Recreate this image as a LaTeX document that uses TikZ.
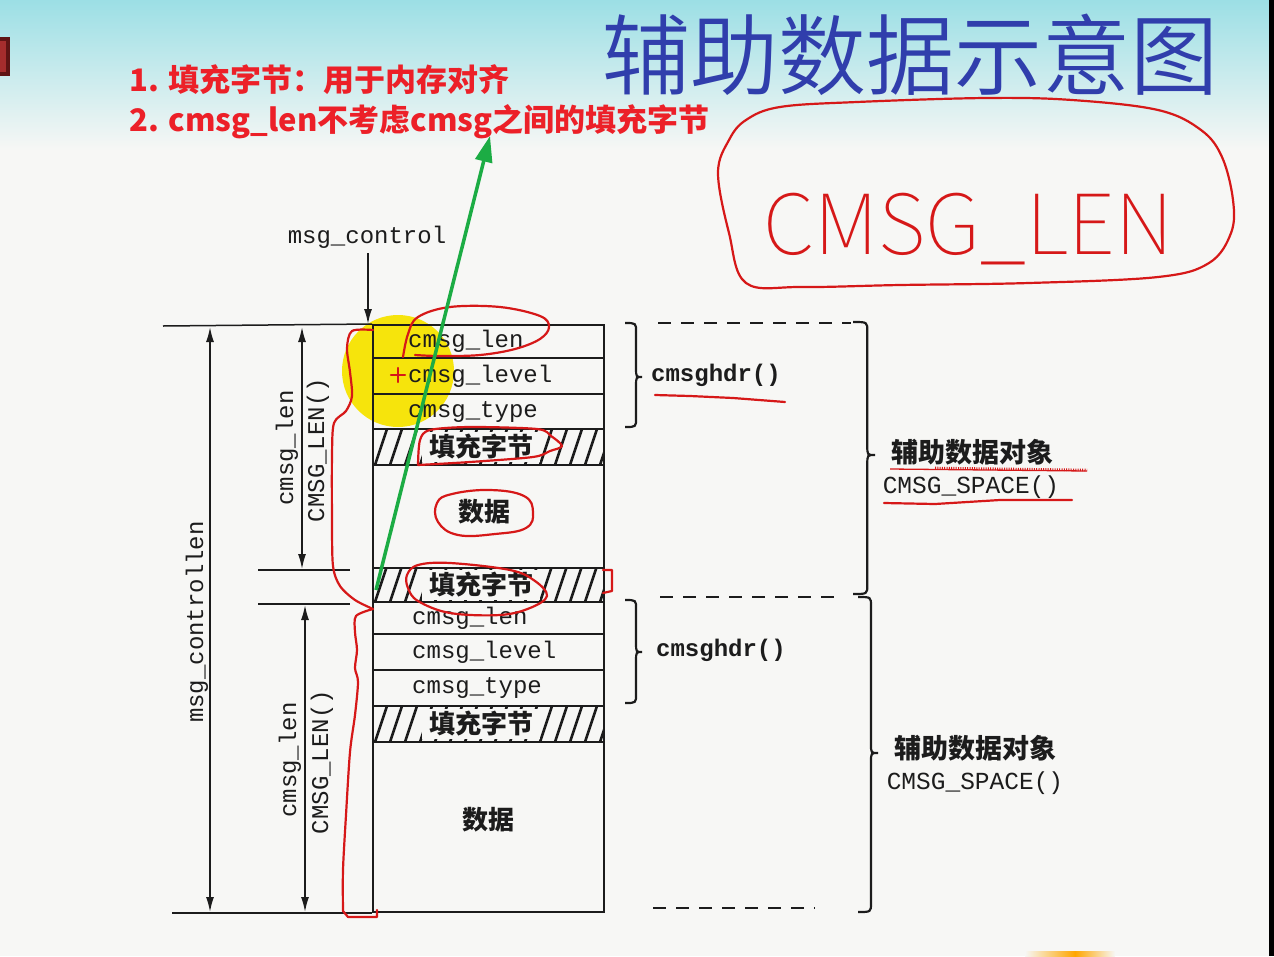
\documentclass[tikz,border=0pt]{standalone}
\usepackage{fontspec}
\usetikzlibrary{arrows.meta,calc}
\setmainfont{Liberation Serif}
\newfontfamily\cjk{Noto Sans CJK SC}
\newfontfamily\cjkthin{Noto Sans CJK SC Thin}
\newfontfamily\cjklight{Noto Sans CJK SC DemiLight}
\newfontfamily\mono{Liberation Mono}

\definecolor{ink}{RGB}{28,28,28}
\definecolor{paper}{RGB}{247,247,245}
\definecolor{penred}{RGB}{214,24,24}
\definecolor{notered}{RGB}{236,32,40}
\definecolor{titleblue}{RGB}{48,62,172}
\definecolor{pointer}{RGB}{28,172,68}
\definecolor{marker}{RGB}{246,228,12}
\definecolor{skytop}{RGB}{156,223,229}
\definecolor{skymid}{RGB}{204,238,242}
\definecolor{darkmark}{RGB}{95,20,20}
\definecolor{markfill}{RGB}{165,45,45}

% right-facing curly brace: x0, top, bottom, tip y, depth
\newcommand\drawbrace[5]{%
  \draw[bracestroke] (#1,#2) .. controls ({#1+0.65*#5},#2) .. ({#1+0.65*#5},{#2+9})
    -- ({#1+0.65*#5},{#4-9}) .. controls ({#1+0.65*#5},#4) .. ({#1+#5},#4)
    .. controls ({#1+0.65*#5},#4) .. ({#1+0.65*#5},{#4+9})
    -- ({#1+0.65*#5},{#3-9}) .. controls ({#1+0.65*#5},#3) .. (#1,#3);}

% diagonal hatching of a padding row: top, bottom
\newcommand\padhatch[2]{%
  \begin{scope}
    \clip (373,#1) rectangle (604,#2);
    \foreach \hx in {345,360,...,615} \draw[hatch] (\hx,#2) -- ++(12,-36);
  \end{scope}}

\begin{document}
\begin{tikzpicture}[x=1pt,y=-1pt,
  rowbox/.style={draw=ink, line width=2pt, minimum width=231pt, inner sep=0pt},
  fieldtxt/.style={font=\mono\fontsize{24}{26}\selectfont, anchor=west, inner sep=0pt, text=ink},
  padtxt/.style={font=\cjk\bfseries\fontsize{26}{28}\selectfont, fill=paper, inner xsep=7pt, inner ysep=2pt, text=ink},
  datatxt/.style={font=\cjk\bfseries\fontsize{26}{28}\selectfont, inner sep=0pt, text=ink},
  hatch/.style={line width=2.6pt, ink},
  guide/.style={line width=1.5pt, ink},
  dimarrow/.style={line width=1.6pt, ink, {Latex[length=15pt,width=8pt]}-{Latex[length=15pt,width=8pt]}},
  vtxt/.style={font=\mono\fontsize{24}{26}\selectfont, rotate=90, inner sep=0pt, text=ink},
  bracestroke/.style={line width=2.2pt, ink},
  dashline/.style={line width=2.4pt, ink, dash pattern=on 13pt off 10pt},
  hdrtxt/.style={font=\mono\bfseries\fontsize{24}{26}\selectfont, inner sep=0pt, text=ink},
  objtxt/.style={font=\cjk\bfseries\fontsize{27}{28}\selectfont, inner sep=0pt, text=ink},
  spacetxt/.style={font=\mono\fontsize{24.5}{26}\selectfont, inner sep=0pt, text=ink},
  redpen/.style={line width=2.2pt, penred, line join=round, line cap=round},
  notetxt/.style={font=\cjk\bfseries\fontsize{31}{33}\selectfont, text=notered, anchor=west, inner sep=0pt}
]
\useasboundingbox (0,0) rectangle (1274,956);

% background
\fill[paper] (0,0) rectangle (1274,956);
\shade[top color=skytop, middle color=skymid, bottom color=paper] (0,0) rectangle (1274,150);
\fill[black] (1269,0) rectangle (1274,956);
\fill[darkmark] (0,37) rectangle (10,76);
\fill[markfill] (0,41) rectangle (6,72);
\shade[left color=paper, right color=orange!70!yellow] (1025,951) rectangle (1075,956);
\shade[left color=orange!70!yellow, right color=paper] (1075,951) rectangle (1115,956);

% title and notes
\node[font=\cjklight\fontsize{88}{88}\selectfont, text=titleblue, inner sep=0pt] (title) at (910,55) {辅助数据示意图};
\node[notetxt] (note1) at (129,80) {1. 填充字节：用于内存对齐};
\node[notetxt] (note2) at (129,122) {2. cmsg\_len不考虑cmsg之间的填充字节};

% highlight behind the first header
\fill[marker] (398,371) circle (56);

% first ancillary data object
\node[rowbox, minimum height=33pt] (r1) at (488.5,341.5) {};
\node[rowbox, minimum height=36pt] (r2) at (488.5,376) {};
\node[rowbox, minimum height=35pt] (r3) at (488.5,411.5) {};
\padhatch{429}{465}
\node[rowbox, minimum height=36pt] (p1) at (488.5,447) {};
\node[rowbox, minimum height=103pt] (d1) at (488.5,516.5) {};
\padhatch{568}{602}
\node[rowbox, minimum height=34pt] (p2) at (488.5,585) {};
% second ancillary data object
\node[rowbox, minimum height=32pt] (r4) at (488.5,618) {};
\node[rowbox, minimum height=36pt] (r5) at (488.5,652) {};
\node[rowbox, minimum height=36pt] (r6) at (488.5,688) {};
\padhatch{706}{742}
\node[rowbox, minimum height=36pt] (p3) at (488.5,724) {};
\node[rowbox, minimum height=170pt] (d2) at (488.5,827) {};

\node[fieldtxt] (f1) at ($(r1.west)+(36,0)$) {cmsg\_len};
\node[fieldtxt] (f2) at ($(r2.west)+(36,0)$) {cmsg\_level};
\node[fieldtxt] (f3) at ($(r3.west)+(36,0)$) {cmsg\_type};
\node[padtxt] (pt1) at (481,447) {填充字节};
\node[datatxt] (dt1) at (484,512) {数据};
\node[padtxt] (pt2) at (481,585) {填充字节};
\node[fieldtxt] (f4) at ($(r4.west)+(40,0)$) {cmsg\_len};
\node[fieldtxt] (f5) at ($(r5.west)+(40,0)$) {cmsg\_level};
\node[fieldtxt] (f6) at ($(r6.west)+(40,0)$) {cmsg\_type};
\node[padtxt] (pt3) at (481,724) {填充字节};
\node[datatxt] (dt2) at (488,820) {数据};

% msg_control pointer
\node[font=\mono\fontsize{24}{26}\selectfont, inner sep=0pt, text=ink] (mctl) at (367,237) {msg\_control};
\coordinate (mcFrom) at (368,253);
\coordinate (mcTo) at (368,324);
\draw[line width=1.5pt, ink, -{Latex[length=15pt,width=8pt]}] (mcFrom) -- (mcTo);

% dimension guides on the left
\coordinate (gTop) at (163,326);
\coordinate (gBot) at (172,913);
\coordinate (gMidA) at (258,570);
\coordinate (gMidAe) at (350,570);
\coordinate (gMidB) at (258,604);
\coordinate (gMidBe) at (350,604);
\draw[guide] (gTop) -- (r1.north west);
\draw[guide] (gBot) -- (d2.south west);
\draw[guide] (gMidA) -- (gMidAe);
\draw[guide] (gMidB) -- (gMidBe);

\coordinate (aTop) at (210,327);
\coordinate (aBot) at (210,912);
\draw[dimarrow] (aTop) -- (aBot);
\coordinate (b1Top) at (302,327);
\coordinate (b1Bot) at (302,569);
\draw[dimarrow] (b1Top) -- (b1Bot);
\coordinate (b2Top) at (305,605);
\coordinate (b2Bot) at (305,912);
\draw[dimarrow] (b2Top) -- (b2Bot);

\node[vtxt] (lenAll) at (197,622) {msg\_controllen};
\node[vtxt] (len1) at (287,448) {cmsg\_len};
\node[vtxt] (mac1) at (318,450) {CMSG\_LEN()};
\node[vtxt] (len2) at (290,760) {cmsg\_len};
\node[vtxt] (mac2) at (322,762) {CMSG\_LEN()};

% braces and dashed extents on the right
\drawbrace{625}{323}{427}{377}{17}
\drawbrace{625}{600}{703}{652}{17}
\drawbrace{853}{322}{594}{455}{22}
\drawbrace{858}{597}{912}{753}{20}
\coordinate (dA) at (658,323); \coordinate (dAe) at (851,323);
\coordinate (dB) at (660,597); \coordinate (dBe) at (835,597);
\coordinate (dC) at (653,908); \coordinate (dCe) at (815,908);
\draw[dashline] (dA) -- (dAe);
\draw[dashline] (dB) -- (dBe);
\draw[dashline] (dC) -- (dCe);

\node[hdrtxt] (h1) at (716,375) {cmsghdr()};
\node[hdrtxt] (h2) at (721,650) {cmsghdr()};
\node[objtxt] (o1) at (972,452) {辅助数据对象};
\node[spacetxt] (s1) at (971,487) {CMSG\_SPACE()};
\node[objtxt] (o2) at (975,748) {辅助数据对象};
\node[spacetxt] (s2) at (975,783) {CMSG\_SPACE()};

% red pen markup
\draw[redpen] plot[smooth cycle, tension=0.6] coordinates {(746,283) (729,233) (718,173) (729,140) (746,120) (780,107) (857,102) (986,98) (1072,100) (1158,110) (1201,130) (1222,157) (1233,200) (1231,233) (1209,263) (1158,277) (1029,283) (900,285) (802,287)};
\node[font=\cjkthin\fontsize{83}{83}\selectfont, text=penred, anchor=base, inner sep=0pt] (hw) at (968,254) {CMSG\_LEN};

\draw[redpen] plot[smooth, tension=0.6] coordinates {(403,357) (408,334) (418,317) (450,307) (500,307) (540,316) (549,327) (540,339) (515,349) (480,355) (440,356) (415,355)};
\draw[redpen] plot[smooth, tension=0.5] coordinates {(418,465) (420,440) (430,430) (470,427) (537,429) (551,436) (562,446) (550,451) (533,457) (470,462) (418,465)};
\draw[redpen] plot[smooth cycle, tension=0.7] coordinates {(438,522) (437,503) (452,494) (490,490) (524,496) (533,512) (526,528) (495,534) (458,535)};
\draw[redpen] plot[smooth cycle, tension=0.6] coordinates {(407,575) (418,565) (450,563) (510,570) (535,581) (547,596) (530,608) (500,615) (450,613) (418,601) (408,588)};
\draw[redpen] (603,570) -- (612,570) -- (612,591) -- (603,593);
\draw[redpen] (391,375) -- (405,375) (398,368) -- (398,382);

\draw[redpen] plot[smooth, tension=0.5] coordinates {(373,330) (352,331) (347,348) (350,372) (352,396) (346,411) (334,423) (332,455) (332,520) (333,566) (340,586) (355,600) (373,609)};
\draw[redpen] plot[smooth, tension=0.5] coordinates {(373,609) (356,616) (355,632) (357,650) (355,668) (358,682) (355,715) (350,752) (346,815) (343,870) (343,911)} -- (348,917) -- (377,917) -- (377,910);

\draw[redpen] (655,395) -- (690,396) -- (733,398) -- (785,402);
\draw[penred, line width=1.3pt] (890,469) -- (1087,471);
\draw[penred, line width=2.6pt, dash pattern=on 1pt off 1.3pt] (935,468) -- (1087,470);
\draw[redpen] (884,503) -- (935,504) -- (1000,500) -- (1072,500);

% green pointer from the padding to note 2
\coordinate (gpFrom) at (376,590);
\coordinate (gpTo) at (490,136);
\draw[pointer, line width=3.5pt, -{Triangle[length=26pt,width=17pt]}] (gpFrom) -- (gpTo);

\end{tikzpicture}
\end{document}
